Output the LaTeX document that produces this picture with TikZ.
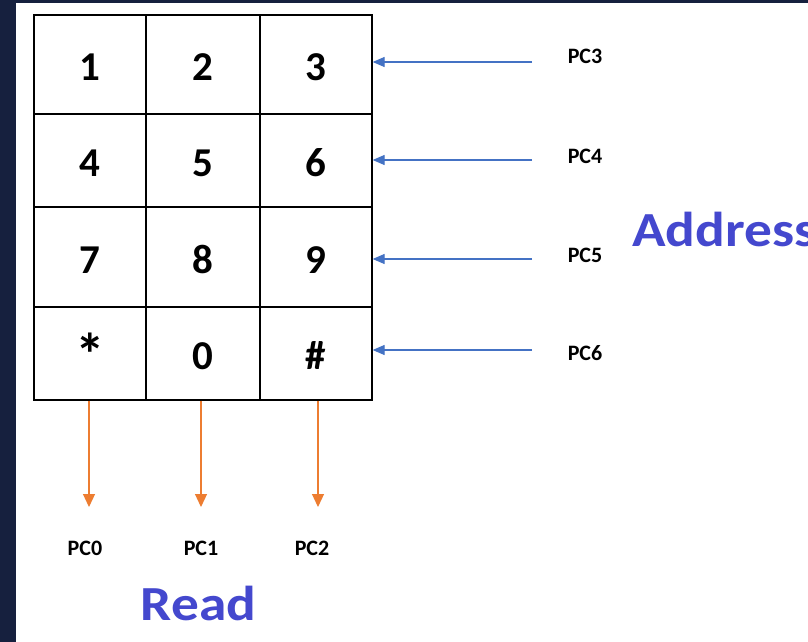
\documentclass[tikz,border=0pt]{standalone}
\usepackage{fontspec}
\usepackage{graphicx}
\setmainfont{Carlito}
\newfontfamily\widefont[FakeStretch=1.13]{Carlito}
\usetikzlibrary{arrows.meta}
\definecolor{navy}{RGB}{22,32,62}
\definecolor{addrblue}{RGB}{68,72,206}
\definecolor{arrblue}{RGB}{68,114,196}
\definecolor{arrorange}{RGB}{237,125,49}
\tikzset{
  cell/.style={draw=black, line width=1.3pt, inner sep=0pt, text height=32pt, text depth=0pt,
    font=\fontsize{41}{41}\selectfont\bfseries},
  pin/.style={font=\fontsize{22}{22}\selectfont\bfseries, inner sep=0pt},
  big/.style={font=\widefont\fontsize{49}{49}\selectfont\bfseries, text=addrblue, inner sep=0pt},
  inarrow/.style={draw=arrblue, line width=1.2pt, -{Triangle[length=12pt,width=10pt]}},
  outarrow/.style={draw=arrorange, line width=1.2pt, -{Triangle[length=13pt,width=12pt]}}
}
\begin{document}
\begin{tikzpicture}[x=1pt,y=-1pt]
\useasboundingbox (0,0) rectangle (808,642);
\fill[white] (0,0) rectangle (808,642);
\fill[navy] (0,0) rectangle (16,642);
\fill[navy] (0,0) rectangle (808,3);
% row 1
\node[cell, minimum width=112pt, minimum height=99pt] (c11) at (90,64.5) {1};
\node[cell, minimum width=114pt, minimum height=99pt] (c12) at (203,64.5) {2};
\node[cell, minimum width=112pt, minimum height=99pt] (c13) at (316,64.5) {3};
% row 2
\node[cell, minimum width=112pt, minimum height=93pt] (c21) at (90,160.5) {4};
\node[cell, minimum width=114pt, minimum height=93pt] (c22) at (203,160.5) {5};
\node[cell, minimum width=112pt, minimum height=93pt] (c23) at (316,160.5) {6};
% row 3
\node[cell, minimum width=112pt, minimum height=100pt] (c31) at (90,257) {7};
\node[cell, minimum width=114pt, minimum height=100pt] (c32) at (203,257) {8};
\node[cell, minimum width=112pt, minimum height=100pt] (c33) at (316,257) {9};
% row 4
\node[cell, minimum width=112pt, minimum height=93pt] (c41) at (90,353.5) {\raisebox{-6pt}{\scalebox{1.45}{*}}};
\node[cell, minimum width=114pt, minimum height=93pt] (c42) at (203,353.5) {0};
\node[cell, minimum width=112pt, minimum height=93pt] (c43) at (316,353.5) {\#};
% address lines
\node[pin] (pc3) at (585,56) {PC3};
\node[pin] (pc4) at (585,156) {PC4};
\node[pin] (pc5) at (585,255) {PC5};
\node[pin] (pc6) at (585,353) {PC6};
\coordinate (a3) at (532,62);
\coordinate (a4) at (532,160);
\coordinate (a5) at (532,259);
\coordinate (a6) at (532,350);
\draw[inarrow] (a3) -- (a3 -| c13.east);
\draw[inarrow] (a4) -- (a4 -| c23.east);
\draw[inarrow] (a5) -- (a5 -| c33.east);
\draw[inarrow] (a6) -- (a6 -| c43.east);
\node[big, anchor=base west] (addr) at (632,246) {Address};
% read lines
\coordinate (r0) at (89,507);
\coordinate (r1) at (201,507);
\coordinate (r2) at (318,507);
\draw[outarrow] (r0 |- c41.south) -- (r0);
\draw[outarrow] (r1 |- c42.south) -- (r1);
\draw[outarrow] (r2 |- c43.south) -- (r2);
\node[pin] (pc0) at (85,548) {PC0};
\node[pin] (pc1) at (201,548) {PC1};
\node[pin] (pc2) at (312,548) {PC2};
\node[big, anchor=base] (read) at (198.5,620) {Read};
\end{tikzpicture}
\end{document}
